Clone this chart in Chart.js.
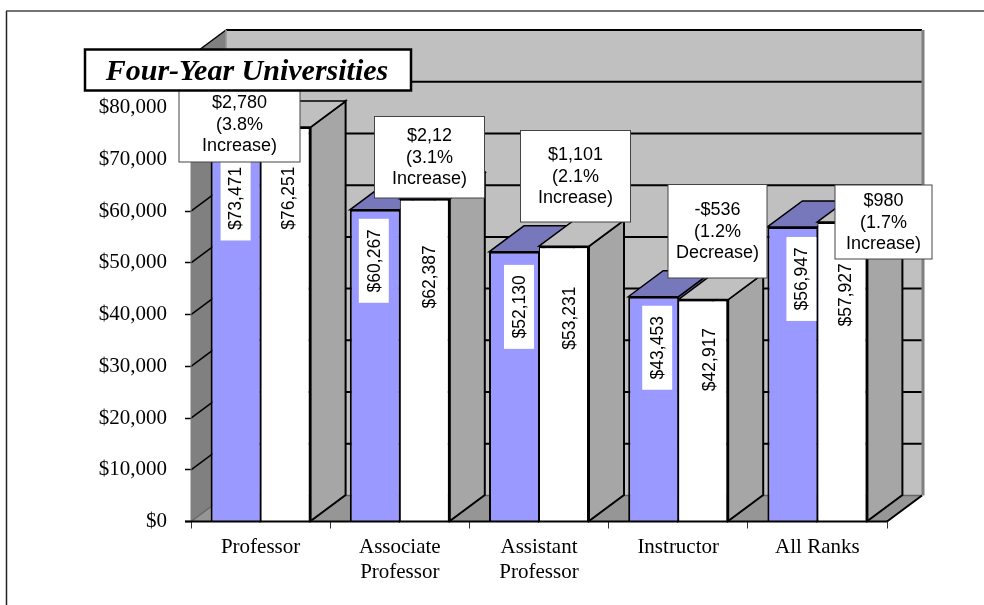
<!DOCTYPE html>
<html>
<head>
<meta charset="utf-8">
<title>Four-Year Universities</title>
<script src="https://cdn.jsdelivr.net/npm/chart.js@4"></script>
<style>
	html, body { margin: 0; padding: 0; background: #fff; overflow: hidden; }
	canvas { display: block; }
</style>
</head>
<body>
<canvas id="myChart" width="984" height="605"></canvas>
<script>
// Chart data
const titol = "Four-Year Universities";
const categories = ["Professor", ["Associate", "Professor"], ["Assistant", "Professor"], "Instructor", "All Ranks"];
const anyAnterior = [73471, 60267, 52130, 43453, 56947];
const anyActual = [76251, 62387, 53231, 42917, 57927];
const canvis = [
	["$2,780", "(3.8%", "Increase)"],
	["$2,12", "(3.1%", "Increase)"],
	["$1,101", "(2.1%", "Increase)"],
	["-$536", "(1.2%", "Decrease)"],
	["$980", "(1.7%", "Increase)"]
];
const valorMaxim = 90000;
const pasEix = 10000;

// Layout of the notes: left, top, right, bottom and the y of the first text line
const caixesCanvis = [
	[179, 86, 300, 162, 103],
	[374.5, 116.5, 484.5, 198, 136],
	[520.5, 130.5, 630.5, 222, 155],
	[668, 184.5, 767, 278, 210],
	[835, 185, 932, 259, 201]
];

// Hand-placed value labels: shift from the top centre of each bar
const despl = [
	[[0, 57], [-1, 51], [5, 55], [4, 51], [9, 52]],
	[[3, 71], [4, 78], [5, 72], [6, 60], [3, 73]]
];

// 3D depth of the chart, in pixels
const fonsX = 35;
const fonsY = -26;

const sans = "'Liberation Sans', Arial, sans-serif";
const serif = "'Liberation Serif', 'Times New Roman', serif";

function diners(valor) {
	return "$" + valor.toLocaleString("en-US");
}

function poligon(ctx, punts, fill, stroke, gruix) {
	ctx.beginPath();
	punts.forEach((p, i) => {
		if (i == 0) ctx.moveTo(p[0], p[1]);
		else ctx.lineTo(p[0], p[1]);
	});
	ctx.closePath();
	if (fill) {
		ctx.fillStyle = fill;
		ctx.fill();
	}
	if (stroke) {
		ctx.strokeStyle = stroke;
		ctx.lineWidth = gruix || 2;
		ctx.stroke();
	}
}

function linia(ctx, x1, y1, x2, y2, color, gruix) {
	ctx.beginPath();
	ctx.moveTo(x1, y1);
	ctx.lineTo(x2, y2);
	ctx.strokeStyle = color;
	ctx.lineWidth = gruix;
	ctx.stroke();
}

// Walls, floor and the sides of the bars, behind the front faces
const parets = {
	id: "parets",
	beforeDraw(chart) {
		const ctx = chart.ctx;
		ctx.save();
		linia(ctx, 6.5, 11, 6.5, 605, "#222", 1.5);
		linia(ctx, 6, 11, 984, 11, "#444", 1.5);
		ctx.restore();
	},
	beforeDatasetsDraw(chart) {
		const ctx = chart.ctx;
		const area = chart.chartArea;
		const y = chart.scales.y;
		const esq = area.left, dre = area.right, dalt = area.top, baix = area.bottom;
		ctx.save();

		// Back wall
		poligon(ctx, [[esq + fonsX, dalt + fonsY], [dre + fonsX, dalt + fonsY], [dre + fonsX, baix + fonsY], [esq + fonsX, baix + fonsY]], "#c0c0c0");
		// Left wall
		poligon(ctx, [[esq, dalt], [esq + fonsX, dalt + fonsY], [esq + fonsX, baix + fonsY], [esq, baix]], "#808080");
		// Floor
		poligon(ctx, [[esq, baix], [esq + fonsX, baix + fonsY], [dre + fonsX, baix + fonsY], [dre, baix]], "#969696");

		// Gridlines on the wall
		y.ticks.forEach((tick) => {
			const py = y.getPixelForValue(tick.value);
			if (tick.value > 0) {
				linia(ctx, esq, py, esq + fonsX, py + fonsY, "#000", 1.5);
				linia(ctx, esq + fonsX, py + fonsY, dre + fonsX, py + fonsY, "#000", 2);
			}
		});
		linia(ctx, esq, baix, esq + fonsX, baix + fonsY, "#666", 1.5);
		linia(ctx, esq + fonsX, dalt + fonsY, esq + fonsX, baix + fonsY, "#999", 1.5);
		linia(ctx, esq + fonsX, baix + fonsY, dre + fonsX, baix + fonsY, "#666", 1.5);
		linia(ctx, dre + fonsX + 1, dalt + fonsY, dre + fonsX + 1, baix + fonsY, "#808080", 3);
		linia(ctx, dre, baix, dre + fonsX, baix + fonsY, "#000", 2);
		linia(ctx, esq, dalt, esq, baix, "#808080", 1);

		// Sides and tops of each bar
		const colors = [["#7777bb", "#7777bb"], ["#a6a6a6", "#c0c0c0"]];
		categories.forEach((c, i) => {
			[0, 1].forEach((d) => {
				const bar = chart.getDatasetMeta(d).data[i];
				const l = bar.x - bar.width / 2, r = bar.x + bar.width / 2, t = bar.y, b = bar.base;
				poligon(ctx, [[r, t], [r + fonsX, t + fonsY], [r + fonsX, b + fonsY], [r, b]], colors[d][0], "#000", 2);
				poligon(ctx, [[l, t], [l + fonsX, t + fonsY], [r + fonsX, t + fonsY], [r, t]], colors[d][1], "#000", 1.5);
			});
		});
		ctx.restore();
	},
	afterDatasetsDraw(chart) {
		const ctx = chart.ctx;
		const area = chart.chartArea;
		ctx.save();
		linia(ctx, area.left - 6, area.bottom, area.right, area.bottom, "#000", 2);

		// Rotated value labels on a white box
		[0, 1].forEach((d) => {
			chart.getDatasetMeta(d).data.forEach((bar, i) => {
				const valor = chart.data.datasets[d].data[i];
				ctx.save();
				ctx.translate(bar.x + despl[d][i][0], bar.y + despl[d][i][1]);
				ctx.rotate(-Math.PI / 2);
				ctx.fillStyle = "#fff";
				ctx.fillRect(-42, -15, 84, 30);
				ctx.fillStyle = "#000";
				ctx.font = "17.5px " + sans;
				ctx.textAlign = "center";
				ctx.textBaseline = "middle";
				ctx.fillText(diners(valor), 0, 1);
				ctx.restore();
			});
		});

		// Change notes
		canvis.forEach((linies, i) => {
			const c = caixesCanvis[i];
			ctx.fillStyle = "#fff";
			ctx.fillRect(c[0], c[1], c[2] - c[0], c[3] - c[1]);
			ctx.strokeStyle = "#444";
			ctx.lineWidth = 1;
			ctx.strokeRect(c[0], c[1], c[2] - c[0], c[3] - c[1]);
			ctx.fillStyle = "#000";
			ctx.font = "18px " + sans;
			ctx.textAlign = "center";
			ctx.textBaseline = "middle";
			linies.forEach((text, n) => {
				ctx.fillText(text, (c[0] + c[2]) / 2, c[4] + n * 21.6);
			});
		});

		// Title box
		ctx.fillStyle = "#fff";
		ctx.fillRect(85, 49.5, 326, 41);
		ctx.strokeStyle = "#000";
		ctx.lineWidth = 2.5;
		ctx.strokeRect(85, 49.5, 326, 41);
		ctx.fillStyle = "#000";
		ctx.font = "italic bold 30px " + serif;
		ctx.textAlign = "center";
		ctx.textBaseline = "middle";
		ctx.fillText(titol, 247, 72);
		ctx.restore();
	}
};

new Chart(document.getElementById("myChart"), {
	type: "bar",
	data: {
		labels: categories,
		datasets: [
			{
				label: "Previous year",
				data: anyAnterior,
				backgroundColor: "#9999ff",
				borderColor: "#000",
				borderWidth: { top: 2, left: 2, right: 1, bottom: 0 },
				borderSkipped: false
			},
			{
				label: "Current year",
				data: anyActual,
				backgroundColor: "#ffffff",
				borderColor: "#000",
				borderWidth: { top: 2, left: 1, right: 2, bottom: 0 },
				borderSkipped: false
			}
		]
	},
	options: {
		responsive: false,
		animation: false,
		devicePixelRatio: 1,
		categoryPercentage: 100 / 139.2,
		barPercentage: 1,
		layout: { padding: { left: 91, right: 97, top: 56, bottom: 23.5 } },
		plugins: {
			legend: { display: false },
			title: { display: false },
			tooltip: { enabled: false }
		},
		scales: {
			x: {
				afterFit: (scale) => { scale.height = 60; },
				border: { display: false },
				grid: { drawOnChartArea: false, tickLength: 7, tickColor: "#333", tickWidth: 1 },
				ticks: {
					color: "#000",
					padding: 6,
					maxRotation: 0,
					autoSkip: false,
					font: { family: serif, size: 21, lineHeight: 1.19 }
				}
			},
			y: {
				min: 0,
				max: valorMaxim,
				afterFit: (scale) => { scale.width = 100; },
				border: { display: false },
				grid: { drawOnChartArea: false, tickLength: 6, tickColor: "#000", tickWidth: 1.5 },
				ticks: {
					stepSize: pasEix,
					color: "#000",
					padding: 18,
					font: { family: serif, size: 21 },
					// the top label sits behind the title box
					callback: (valor) => valor >= valorMaxim ? "" : diners(valor)
				}
			}
		}
	},
	plugins: [parets]
});
</script>
</body>
</html>
